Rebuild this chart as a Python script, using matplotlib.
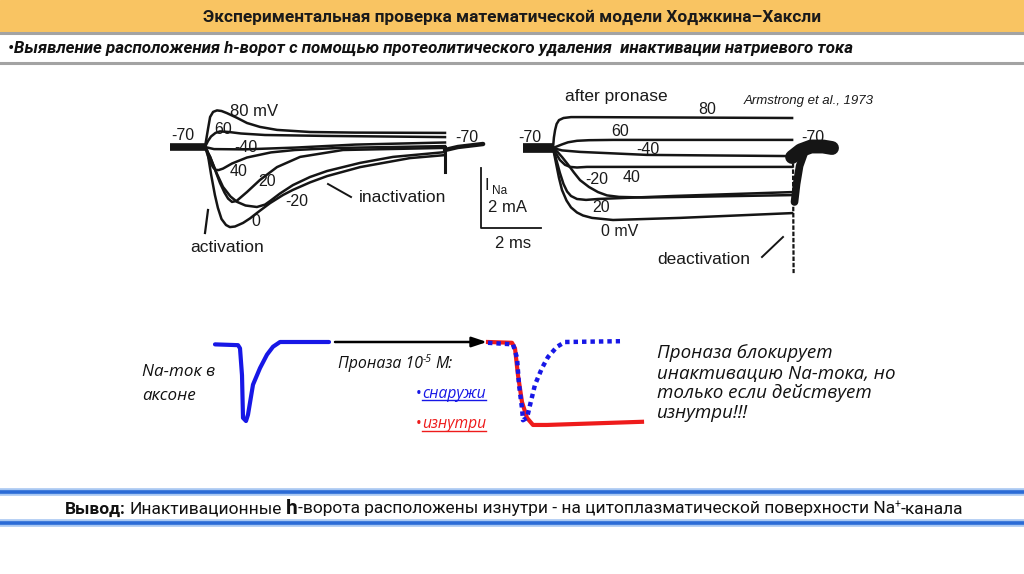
import matplotlib
matplotlib.use('Agg')
import matplotlib.pyplot as plt
from matplotlib import font_manager as fm
from matplotlib.patches import Rectangle

# ---------------- DATA ----------------
# Left panel (before pronase): time in ms from step onset, current in mA
L_base_t = [-1.17, 0.0]
L_base_I = [0.0, 0.0]
L80_t = [0.0, 0.05, 0.1, 0.17, 0.27, 0.4, 0.55, 0.73, 1.07, 1.4, 1.83, 2.4, 3.5, 5.0, 8.0]
L80_I = [0.0, 0.3, 0.6, 1.0, 1.17, 1.22, 1.2, 1.13, 0.97, 0.8, 0.67, 0.57, 0.5, 0.48, 0.47]
L60_t = [0.0, 0.1, 0.2, 0.35, 0.5, 0.8, 1.2, 2.0, 4.0, 8.0]
L60_I = [0.0, 0.2, 0.35, 0.47, 0.52, 0.5, 0.45, 0.4, 0.37, 0.33]
Lm40_t = [0.0, 0.3, 1.3, 3.0, 5.0, 8.0]
Lm40_I = [0.0, -0.07, -0.08, -0.02, 0.08, 0.15]
L40_t = [0.0, 0.1, 0.2, 0.27, 0.35, 0.45, 0.6, 0.9, 1.4, 2.2, 3.0, 4.5, 8.0]
L40_I = [0.0, -0.3, -0.55, -0.68, -0.76, -0.77, -0.72, -0.55, -0.35, -0.18, -0.1, -0.03, 0.03]
L20_t = [0.0, 0.17, 0.35, 0.5, 0.65, 0.77, 0.9, 1.05, 1.4, 1.83, 2.4, 3.17, 4.6, 8.0]
L20_I = [0.0, -0.33, -0.8, -1.2, -1.52, -1.72, -1.83, -1.8, -1.5, -1.1, -0.67, -0.33, -0.1, -0.03]
Lm20_t = [0.0, 0.17, 0.4, 0.6, 0.85, 1.07, 1.35, 1.73, 2.0, 2.17, 2.5, 2.93, 3.5, 4.07, 5.17, 6.27, 8.0]
Lm20_I = [0.0, -0.33, -0.9, -1.33, -1.65, -1.83, -1.95, -2.0, -1.92, -1.8, -1.55, -1.27, -1.0, -0.8,
          -0.53, -0.33, -0.17]
L0_t = [0.0, 0.07, 0.2, 0.33, 0.43, 0.55, 0.7, 0.83, 1.0, 1.27, 1.5, 1.73, 2.17, 2.6, 2.93, 3.5, 4.07,
        5.17, 6.83, 8.0]
L0_I = [0.0, -0.1, -0.9, -1.6, -2.03, -2.4, -2.6, -2.67, -2.65, -2.53, -2.38, -2.2, -1.87, -1.6, -1.43,
        -1.18, -0.97, -0.67, -0.37, -0.27]
L_dip_t = [8.0, 8.0]
L_dip_I = [0.0, -0.83]
L_tail_t = [8.0, 8.43, 9.27]
L_tail_I = [-0.1, 0.0, 0.1]
# scale bar (2 ms, 2 mA)
bar_t = [9.2, 9.2, 11.2]
bar_I = [-0.7, -2.7, -2.7]

# Right panel (after pronase)
R_base_t = [-1.0, 0.0]
R_base_I = [0.0, 0.0]
R80_t = [0.0, 0.03, 0.07, 0.12, 0.2, 0.35, 0.6, 1.0, 7.97]
R80_I = [0.0, 0.35, 0.6, 0.8, 0.93, 1.0, 1.03, 1.03, 1.0]
R60_t = [0.0, 0.15, 0.3, 0.5, 0.8, 1.2, 2.0, 5.0, 7.97]
R60_I = [0.0, 0.06, 0.12, 0.19, 0.24, 0.26, 0.27, 0.27, 0.27]
Rm40_t = [0.0, 0.3, 0.9, 3.13, 7.97]
Rm40_I = [0.0, -0.08, -0.13, -0.23, -0.27]
R40_t = [0.0, 0.1, 0.23, 0.4, 0.57, 0.8, 1.13, 4.0, 7.97]
R40_I = [0.0, -0.18, -0.4, -0.56, -0.63, -0.65, -0.63, -0.63, -0.63]
Rm20_t = [0.0, 0.15, 0.3, 0.5, 0.7, 0.9, 1.2, 1.5, 1.8, 2.2, 3.0, 5.0, 7.97]
Rm20_I = [0.0, -0.13, -0.3, -0.55, -0.82, -1.07, -1.3, -1.47, -1.58, -1.63, -1.65, -1.62, -1.57]
R20_t = [0.0, 0.1, 0.23, 0.35, 0.47, 0.6, 0.8, 1.1, 1.5, 4.0, 7.97]
R20_I = [0.0, -0.35, -0.83, -1.2, -1.45, -1.6, -1.7, -1.73, -1.7, -1.6, -1.47]
R0_t = [0.0, 0.1, 0.2, 0.3, 0.45, 0.6, 0.8, 1.0, 1.3, 2.0, 4.23, 7.97]
R0_I = [0.0, -0.5, -1.0, -1.4, -1.75, -1.98, -2.15, -2.25, -2.33, -2.4, -2.33, -2.17]
R_spike_t = [8.0, 8.02]
R_spike_I = [-0.3, -4.17]
R_lobe_t = [8.05, 8.12, 8.22, 8.38]
R_lobe_I = [-1.8, -1.2, -0.6, -0.15]
R_tail_t = [7.97, 8.25, 8.6, 9.0, 9.3]
R_tail_I = [-0.3, -0.08, 0.05, 0.05, 0.0]

# Schematic: normalised Na current (0 = rest, -1 = control peak), arbitrary time
ctrl_t = [1.5, 3.8, 4.0, 4.2, 4.3, 4.6, 4.8, 5.3, 6.0, 6.7, 7.3, 8.0, 12.9]
ctrl_I = [-0.03, -0.04, -0.08, -0.42, -0.96, -1.0, -0.92, -0.54, -0.33, -0.16, -0.06, 0.0, 0.0]
out_t = [28.8, 31.3, 31.7, 31.9, 32.2, 32.3, 32.7, 33.0, 33.5, 34.2, 34.8, 35.7, 36.5, 42.0]
out_I = [-0.01, -0.03, -0.2, -0.54, -0.84, -0.99, -0.96, -0.8, -0.54, -0.33, -0.19, -0.06, 0.0, 0.01]
in_t = [28.8, 31.2, 31.5, 31.8, 32.2, 32.7, 33.3, 34.7, 44.2]
in_I = [0.0, -0.01, -0.08, -0.42, -0.76, -0.96, -1.05, -1.05, -1.01]
arrow_t = [13.5, 28.7]

# ---------------- FIGURE ----------------
W, H = 1024, 574
fig = plt.figure(figsize=(W / 100, H / 100), dpi=100)
fig.patch.set_facecolor('white')

names = {f.name for f in fm.fontManager.ttflist}
ital = {f.name for f in fm.fontManager.ttflist if f.style in ('italic', 'oblique')}


def pick(cands, pool):
    for c in cands:
        if c in pool:
            return c
    return 'DejaVu Sans'


HEAD = pick(['Liberation Sans Narrow', 'Roboto', 'Open Sans'], names)
HEADI = pick(['Liberation Sans Narrow', 'Roboto', 'Open Sans', 'Noto Sans', 'Liberation Sans'], ital)
BODY = pick(['Open Sans', 'Noto Sans', 'Roboto'], names)
BODYI = pick(['Open Sans', 'Noto Sans', 'Roboto', 'Liberation Sans'], ital)
FIGF = pick(['Liberation Sans', 'Open Sans'], names)
FIGI = pick(['Liberation Sans', 'Open Sans', 'Noto Sans'], ital)

ov = fig.add_axes([0, 0, 1, 1])
ov.set_xlim(0, W)
ov.set_ylim(H, 0)
ov.axis('off')
renderer = fig.canvas.get_renderer()


def panel(box, x0, y0, sx, sy):
    """axes covering pixel box (xa, xb, ya, yb); data origin at pixel (x0, y0), sx/sy px per unit"""
    xa, xb, ya, yb = box
    a = fig.add_axes([xa / W, 1 - yb / H, (xb - xa) / W, (yb - ya) / H])
    a.set_xlim((xa - x0) / sx, (xb - x0) / sx)
    a.set_ylim((y0 - yb) / sy, (y0 - ya) / sy)
    a.axis('off')
    a.patch.set_alpha(0)
    return a


def rich(pieces, x, y, size, ha='left', fit=None, va='baseline'):
    def build(sz):
        ts, ws = [], []
        for s, k in pieces:
            kk = {a: b for a, b in k.items() if a not in ('rel', 'gap', 'dy')}
            t = ov.text(0, y + k.get('dy', 0), s, fontsize=sz * k.get('rel', 1), va=va, ha='left', **kk)
            ts.append(t)
            ws.append(t.get_window_extent(renderer).width + k.get('gap', 0) * sz)
        return ts, ws
    ts, ws = build(size)
    if fit:
        for t in ts:
            t.remove()
        size = size * fit / sum(ws)
        ts, ws = build(size)
    total = sum(ws)
    xs = x if ha == 'left' else (x - total / 2 if ha == 'center' else x - total)
    for t, w in zip(ts, ws):
        t.set_x(xs)
        xs += w
    return ts, size


# ---------- header ----------
ov.add_patch(Rectangle((0, 0), W, 31, color='#F9C462', zorder=0))
ov.plot([0, W], [32.5, 32.5], color='#A3A3A3', lw=2.2)
ov.plot([0, W], [62.5, 62.5], color='#A3A3A3', lw=2.2)
rich([("Экспериментальная проверка математической модели Ходжкина–Хаксли",
       dict(fontweight='bold', family=HEAD, color='#1a1a1a'))],
     512, 21.5, 12, ha='center', fit=615)
rich([("•Выявление расположения h-ворот с помощью протеолитического удаления  инактивации натриевого тока",
       dict(fontweight='bold', style='italic', family=HEADI, color='#111111'))],
     8, 52.5, 11, ha='left', fit=847)

# ---------- footer ----------
for yy in (492, 523):
    ov.plot([0, W], [yy, yy], color='#A9C8F2', lw=5.5, solid_capstyle='butt')
    ov.plot([0, W], [yy, yy], color='#2B6BD6', lw=2.6, solid_capstyle='butt')
FT = '#111111'
rich([("Вывод:", dict(fontweight='bold', family=HEAD, color=FT, gap=0.3)),
      ("Инактивационные", dict(family=HEAD, color=FT, gap=0.3)),
      ("h", dict(fontweight='bold', family=HEAD, color=FT, rel=1.2)),
      ("-ворота расположены изнутри - на цитоплазматической поверхности Na", dict(family=HEAD, color=FT)),
      ("+", dict(family=HEAD, color=FT, rel=0.6, dy=-6)),
      ("-канала", dict(family=HEAD, color=FT))],
     65, 513.5, 12, ha='left', fit=895)

# ---------- left recording panel ----------
axL = panel((150, 560, 85, 290), 205, 147, 30, 30)
blk = '#151515'
axL.plot(L_base_t, L_base_I, color=blk, lw=5.5, solid_capstyle='butt')
for tt, ii in [(L80_t, L80_I), (L60_t, L60_I), (Lm40_t, Lm40_I), (L40_t, L40_I),
               (L20_t, L20_I), (Lm20_t, Lm20_I), (L0_t, L0_I)]:
    axL.plot(tt, ii, color=blk, lw=1.8, solid_joinstyle='round')
axL.plot(L_dip_t, L_dip_I, color=blk, lw=2.2)
axL.plot(L_tail_t, L_tail_I, color=blk, lw=3.2, solid_capstyle='round')
axL.plot(bar_t, bar_I, color=blk, lw=1.3)

# ---------- right recording panel ----------
axR = panel((500, 860, 80, 290), 553, 148, 30, 30)
axR.plot(R_base_t, R_base_I, color=blk, lw=7, solid_capstyle='butt')
for tt, ii in [(R80_t, R80_I), (R60_t, R60_I), (Rm40_t, Rm40_I), (R40_t, R40_I),
               (Rm20_t, Rm20_I), (R20_t, R20_I), (R0_t, R0_I)]:
    axR.plot(tt, ii, color=blk, lw=1.8, solid_joinstyle='round')
axR.plot(R_spike_t, R_spike_I, color=blk, lw=1.6, linestyle=(0, (2, 0.8)))
axR.plot(R_lobe_t, R_lobe_I, color=blk, lw=5.5, solid_capstyle='round')
axR.plot(R_tail_t, R_tail_I, color=blk, lw=10, solid_capstyle='round')

# recording labels
lab = dict(family=FIGF, color='#1a1a1a', ha='center', va='center')
for s, x, y, fs in [("-70", 183, 135, 11.5), ("80 mV", 254, 112, 12), ("60", 223, 130, 11.5),
                    ("-40", 246, 148, 11.5), ("40", 239, 171, 11.5), ("20", 267, 182, 11.5),
                    ("-20", 297, 201, 11.5), ("0", 256, 221, 11.5), ("activation", 227, 247, 12.5),
                    ("inactivation", 403, 198, 12.5), ("-70", 467, 137, 11.5),
                    ("2 mA", 507, 208, 12), ("2 ms", 513, 243, 12),
                    ("after pronase", 616, 96, 12.5), ("80", 707, 110, 11.5), ("60", 620, 131, 11.5),
                    ("-40", 648, 149, 11.5), ("-70", 530, 137, 11.5), ("40", 632, 177, 11.5),
                    ("-20", 597, 180, 11.5), ("20", 601, 208, 11.5), ("0 mV", 620, 232, 11.5),
                    ("-70", 813, 138, 11.5), ("deactivation", 704, 259, 12.5)]:
    ov.text(x, y, s, fontsize=fs, **lab)
ov.text(487, 186, "I", fontsize=12, **lab)
ov.text(500, 191, "Na", fontsize=8.5, **lab)
ov.text(809, 101, "Armstrong et al., 1973", fontsize=9.5, family=FIGI, style='italic',
        color='#1a1a1a', ha='center', va='center')
ov.plot([208, 205], [210, 233], color=blk, lw=1.6)
ov.plot([328, 351], [184, 197], color=blk, lw=1.4)
ov.plot([762, 783], [257, 237], color=blk, lw=1.4)

# ---------- schematic ----------
axS = panel((190, 660, 320, 440), 200, 342, 10, 79)
BLUE, RED = '#1717E6', '#EE1B1B'
axS.plot(ctrl_t, ctrl_I, color=BLUE, lw=3, solid_joinstyle='round', solid_capstyle='round')
axS.plot(in_t, in_I, color=RED, lw=3, solid_joinstyle='round')
axS.plot(out_t, out_I, color=BLUE, lw=3.2, linestyle=(0, (1, 0.9)), dash_capstyle='butt')
axS.annotate('', xy=(arrow_t[1], 0), xytext=(arrow_t[0], 0),
             arrowprops=dict(arrowstyle='-|>,head_length=0.9,head_width=0.3', color='black', lw=1.8,
                             shrinkA=0, shrinkB=0))

ts, s1 = rich([("Na-ток в", dict(family=BODYI, style='italic', color='#111111'))], 142, 376, 11, fit=73)
rich([("аксоне", dict(family=BODYI, style='italic', color='#111111'))], 142, 400, s1)
rich([("Проназа 10", dict(family=BODYI, style='italic', color='#111111')),
      ("-5", dict(family=BODYI, style='italic', color='#111111', rel=0.65, dy=-6, gap=0.25)),
      ("М:", dict(family=BODYI, style='italic', color='#111111'))], 338, 368, 10, fit=114)


def underlined(word, color, x, y, size):
    ts, _ = rich([("•", dict(family=BODY, color=color, gap=0.05)),
                  (word, dict(family=BODYI, style='italic', color=color))], x, y, size)
    bb = ts[1].get_window_extent(renderer)
    ov.plot([bb.x0, bb.x1], [y + 2.5, y + 2.5], color=color, lw=1.0)


underlined("снаружи", BLUE, 416, 397.5, s1 * 0.92)
underlined("изнутри", RED, 416, 428.5, s1 * 0.92)

ts, s2 = rich([("Проназа блокирует", dict(family=BODYI, style='italic', color='#111111'))],
              657, 358.5, 12, fit=175)
for i, line in enumerate(["инактивацию Na-тока, но", "только если действует", "изнутри!!!"]):
    rich([(line, dict(family=BODYI, style='italic', color='#111111'))], 657, 378.5 + 20 * i, s2)

fig.savefig('out.png', dpi=100, facecolor='white')
